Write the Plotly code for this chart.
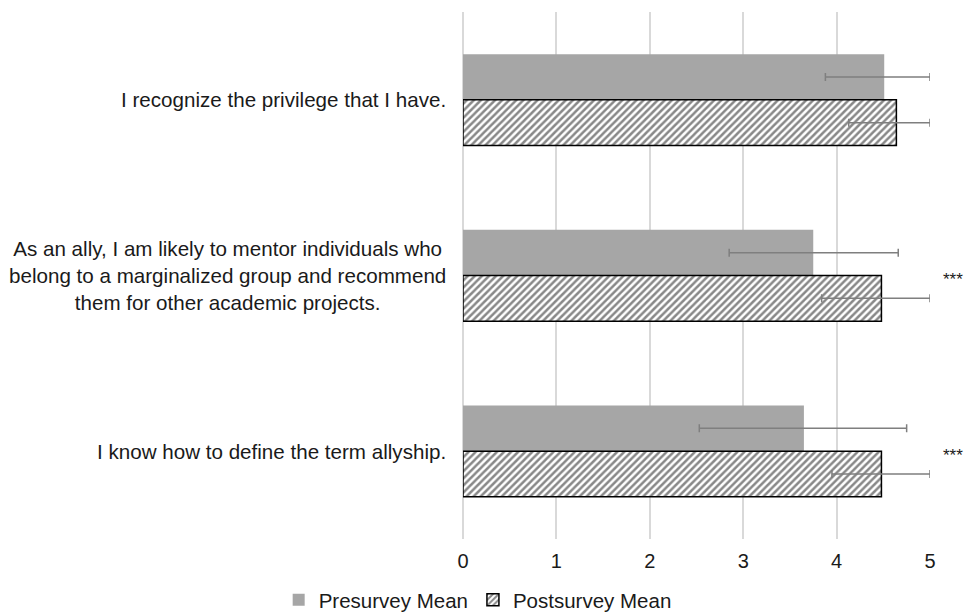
import plotly.graph_objects as go

categories = [
    "I recognize the privilege that I have.",
    "As an ally, I am likely to mentor individuals who<br>belong to a marginalized group and recommend<br>them for other academic projects.",
    "I know how to define the term allyship.",
]
pre_mean = [4.51, 3.75, 3.65]
pre_err_minus = [0.63, 0.90, 1.12]
pre_err_plus = [0.49, 0.91, 1.10]
post_mean = [4.64, 4.48, 4.48]
post_err_minus = [0.51, 0.64, 0.53]
post_err_plus = [0.36, 0.52, 0.52]
significance = ["", "***", "***"]
x_ticks = [0, 1, 2, 3, 4, 5]

FONT = "Liberation Sans, Arial, sans-serif"

fig = go.Figure()
fig.add_trace(go.Bar(
    name="Presurvey Mean", y=categories, x=pre_mean, orientation="h",
    marker=dict(color="#a6a6a6", line=dict(width=0)),
    error_x=dict(type="data", symmetric=False, array=pre_err_plus, arrayminus=pre_err_minus,
                 color="#7f7f7f", thickness=1.5, width=4),
))
fig.add_trace(go.Bar(
    name="Postsurvey Mean", y=categories, x=post_mean, orientation="h",
    marker=dict(color="white", line=dict(color="black", width=1.5),
                pattern=dict(shape="/", fgcolor="#111111", bgcolor="white", size=5, solidity=0.5)),
    error_x=dict(type="data", symmetric=False, array=post_err_plus, arrayminus=post_err_minus,
                 color="#7f7f7f", thickness=1.5, width=4),
))

for cat in categories:
    fig.add_annotation(x=0, xref="x", y=cat, yref="y", text=cat, showarrow=False,
                       xanchor="right", align="center", xshift=-15,
                       font=dict(family=FONT, size=20.6, color="#1a1a1a"))

for cat, sig in zip(categories, significance):
    if sig:
        fig.add_annotation(x=1.0, xref="paper", y=cat, yref="y", text=sig, showarrow=False,
                           xanchor="left", xshift=11, yshift=-4,
                           font=dict(family=FONT, size=17, color="#1a1a1a"))

fig.update_layout(
    width=965, height=614,
    margin=dict(l=463, r=35, t=12, b=75, autoexpand=False),
    barmode="group", bargap=0.48, bargroupgap=0,
    plot_bgcolor="white", paper_bgcolor="white",
    font=dict(family=FONT, size=20, color="#1a1a1a"),
    showlegend=True,
    legend=dict(orientation="h", xref="container", x=0.495, xanchor="center",
                yref="container", y=0.0228, yanchor="middle",
                font=dict(family=FONT, size=20.5, color="#1a1a1a"),
                traceorder="normal", itemwidth=30),
)
fig.update_xaxes(range=[0, 5], tickvals=x_ticks, showgrid=True, gridcolor="#d9d9d9", gridwidth=1.5,
                 zeroline=True, zerolinecolor="#d9d9d9", zerolinewidth=1.5, automargin=False,
                 showline=False, ticks="", ticklabelstandoff=8,
                 tickfont=dict(family=FONT, size=20, color="#1a1a1a"))
fig.update_yaxes(autorange="reversed", showticklabels=False, showgrid=False, zeroline=False,
                 showline=False, ticks="", automargin=False)

fig.write_html(
    "out.html",
    config={"displayModeBar": False},
    post_script="document.body.style.margin='0';document.body.style.overflow='hidden';"
                "document.documentElement.style.overflow='hidden';",
)
